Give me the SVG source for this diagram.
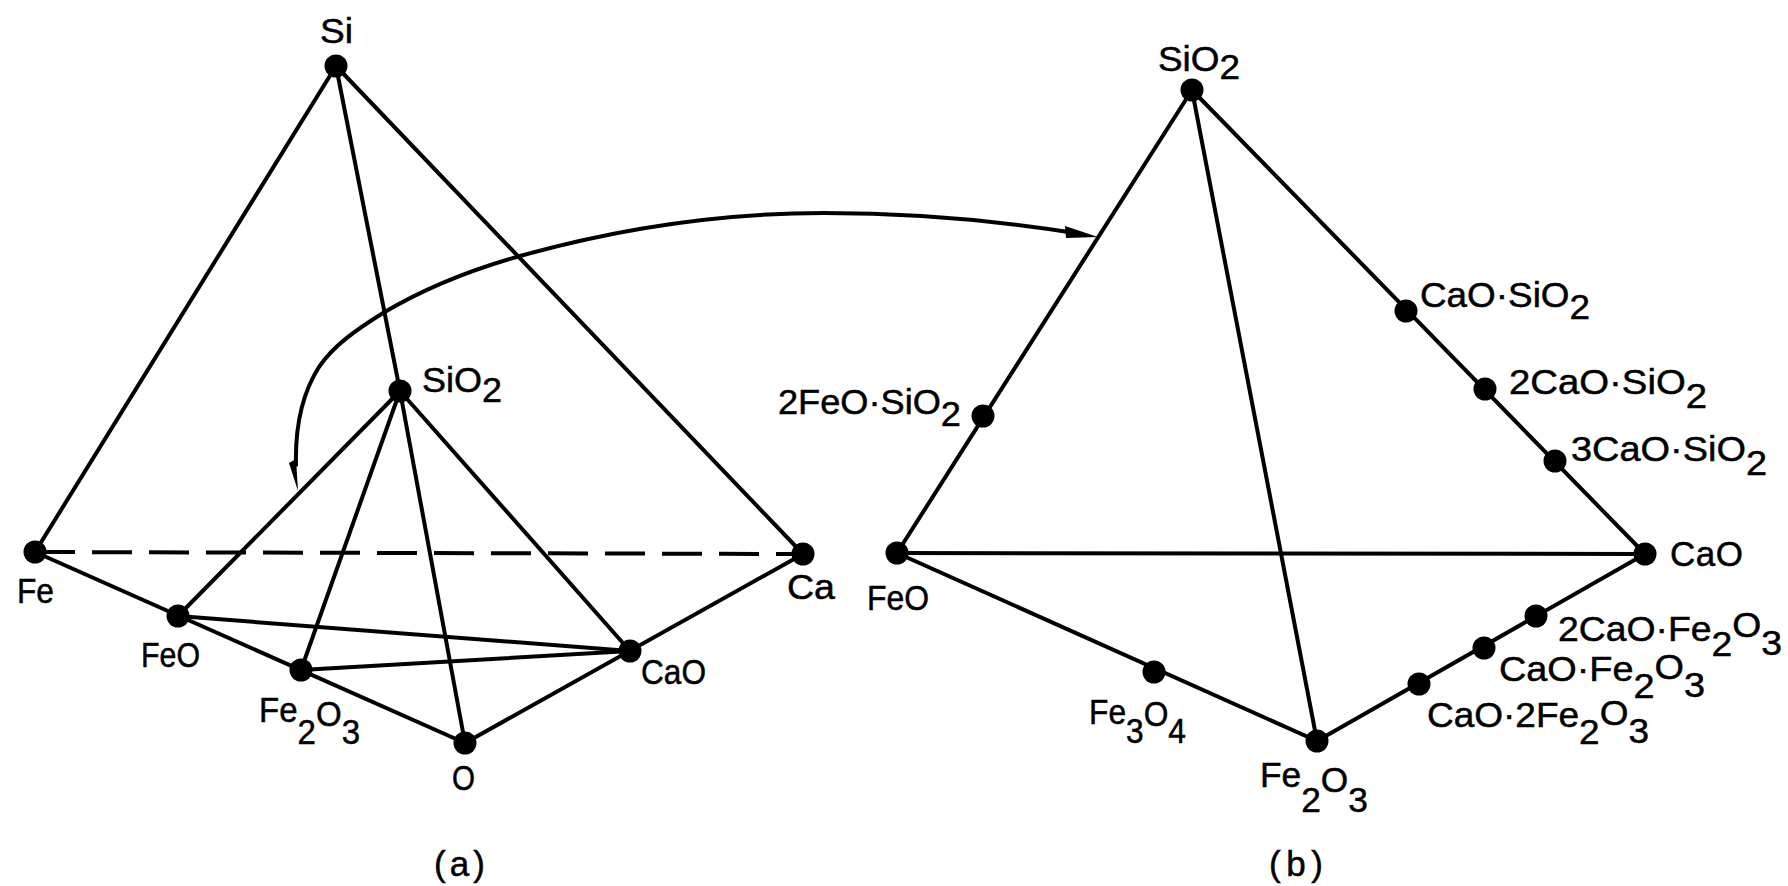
<svg xmlns="http://www.w3.org/2000/svg" width="1788" height="886" viewBox="0 0 1788 886">
<style>
.bg{fill:#fff}
line,path.c{stroke:#000;stroke-width:4;fill:none;stroke-linecap:round}
.d{stroke-dasharray:40 17;stroke-linecap:butt}
.a{stroke-width:3.2}
.h{fill:#000;stroke:none}
circle{fill:#000}
text{font-family:"Liberation Sans",Arial,sans-serif;font-size:35px;fill:#000;stroke:#000;stroke-width:.5}
</style>
<rect class="bg" width="1788" height="886"/>
<g id="connectors">
<line x1="336" y1="66" x2="35" y2="552"/>
<line x1="336" y1="66" x2="803" y2="554"/>
<line x1="336" y1="66" x2="400" y2="391"/>
<line class="d" x1="35" y1="552" x2="803" y2="554"/>
<line x1="35" y1="552" x2="465" y2="743"/>
<line x1="803" y1="554" x2="465" y2="743"/>
<line x1="400" y1="391" x2="178" y2="616"/>
<line x1="400" y1="391" x2="301" y2="670"/>
<line x1="400" y1="391" x2="465" y2="743"/>
<line x1="400" y1="391" x2="630" y2="651"/>
<line x1="178" y1="616" x2="630" y2="651"/>
<line x1="301" y1="670" x2="630" y2="651"/>
<line x1="1192" y1="90" x2="897" y2="553"/>
<line x1="1192" y1="90" x2="1645" y2="554"/>
<line x1="1192" y1="90" x2="1317" y2="741"/>
<line x1="897" y1="553" x2="1645" y2="554"/>
<line x1="897" y1="553" x2="1317" y2="741"/>
<line x1="1645" y1="554" x2="1317" y2="741"/>
<path class="c a" d="M296,465 C295,425 303,392 319,367 C334,345 356,330 383,313 C425,288 470,270 520,256 C620,228 725,213 824,213 C915,213 1000,221 1075,233"/>
<path class="h" d="M1098,237 L1065,226 L1066,238 Z"/>
<path class="h" d="M298,491 L289,463 L296,459 Z"/>
</g>
<g id="n-si"><circle cx="336" cy="66" r="11.5"/><text x="320" y="43" textLength="33" lengthAdjust="spacingAndGlyphs">Si</text></g>
<g id="n-fe"><circle cx="35" cy="552" r="11.5"/><text x="17" y="603" textLength="37" lengthAdjust="spacingAndGlyphs">Fe</text></g>
<g id="n-ca"><circle cx="803" cy="554" r="11.5"/><text x="787" y="599" textLength="48" lengthAdjust="spacingAndGlyphs">Ca</text></g>
<g id="n-sio2-a"><circle cx="400" cy="391" r="11.5"/><text x="422" y="392" textLength="80" lengthAdjust="spacingAndGlyphs">SiO<tspan dy="10">2</tspan></text></g>
<g id="n-feo-a"><circle cx="178" cy="616" r="11.5"/><text x="141" y="667" textLength="59" lengthAdjust="spacingAndGlyphs">FeO</text></g>
<g id="n-fe2o3-a"><circle cx="301" cy="670" r="11.5"/><text x="259" y="722" textLength="101" lengthAdjust="spacingAndGlyphs">Fe<tspan dy="22">2</tspan><tspan dy="-18">O</tspan><tspan dy="18">3</tspan></text></g>
<g id="n-cao-a"><circle cx="630" cy="651" r="11.5"/><text x="641" y="684" textLength="65" lengthAdjust="spacingAndGlyphs">CaO</text></g>
<g id="n-o"><circle cx="465" cy="743" r="11.5"/><text x="452" y="790" textLength="23" lengthAdjust="spacingAndGlyphs">O</text></g>
<text id="label-a" x="434" y="876" textLength="51">(a)</text>
<text id="label-b" x="1269" y="876" textLength="54">(b)</text>
<g id="n-sio2-b"><circle cx="1192" cy="90" r="11.5"/><text x="1158" y="71" textLength="82" lengthAdjust="spacingAndGlyphs">SiO<tspan dy="8">2</tspan></text></g>
<g id="n-feo-b"><circle cx="897" cy="553" r="11.5"/><text x="867" y="610" textLength="62" lengthAdjust="spacingAndGlyphs">FeO</text></g>
<g id="n-cao-b"><circle cx="1645" cy="554" r="11.5"/><text x="1670" y="566" textLength="73">CaO</text></g>
<g id="n-fe2o3-b"><circle cx="1317" cy="741" r="11.5"/><text x="1260" y="787" textLength="108" lengthAdjust="spacingAndGlyphs">Fe<tspan dy="25">2</tspan><tspan dy="-20">O</tspan><tspan dy="20">3</tspan></text></g>
<g id="n-2fs"><circle cx="983" cy="416" r="11.5"/><text x="778" y="414" textLength="183" lengthAdjust="spacingAndGlyphs">2FeO·SiO<tspan dy="12">2</tspan></text></g>
<g id="n-cs"><circle cx="1406" cy="311" r="11.5"/><text x="1420" y="307" textLength="170" lengthAdjust="spacingAndGlyphs">CaO·SiO<tspan dy="12">2</tspan></text></g>
<g id="n-c2s"><circle cx="1485" cy="389" r="11.5"/><text x="1509" y="394" textLength="198" lengthAdjust="spacingAndGlyphs">2CaO·SiO<tspan dy="14">2</tspan></text></g>
<g id="n-c3s"><circle cx="1555" cy="461" r="11.5"/><text x="1571" y="461" textLength="196" lengthAdjust="spacingAndGlyphs">3CaO·SiO<tspan dy="14">2</tspan></text></g>
<g id="n-fe3o4"><circle cx="1154" cy="672" r="11.5"/><text x="1089" y="724" textLength="97" lengthAdjust="spacingAndGlyphs">Fe<tspan dy="19">3</tspan><tspan dy="-17">O</tspan><tspan dy="17">4</tspan></text></g>
<g id="n-c2f"><circle cx="1536" cy="616" r="11.5"/><text x="1558" y="641" textLength="224" lengthAdjust="spacingAndGlyphs">2CaO·Fe<tspan dy="15">2</tspan><tspan dy="-19">O</tspan><tspan dy="18">3</tspan></text></g>
<g id="n-cf"><circle cx="1484" cy="648" r="11.5"/><text x="1499" y="681" textLength="206" lengthAdjust="spacingAndGlyphs">CaO·Fe<tspan dy="17">2</tspan><tspan dy="-19">O</tspan><tspan dy="18">3</tspan></text></g>
<g id="n-cf2"><circle cx="1419" cy="684" r="11.5"/><text x="1427" y="727" textLength="222" lengthAdjust="spacingAndGlyphs">CaO·2Fe<tspan dy="17">2</tspan><tspan dy="-19">O</tspan><tspan dy="18">3</tspan></text></g>
</svg>
